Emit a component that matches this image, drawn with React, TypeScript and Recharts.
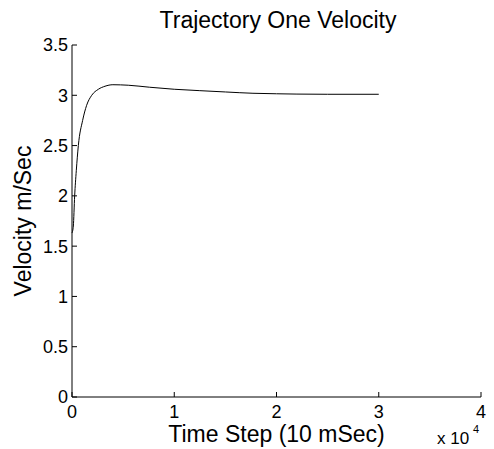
import { LineChart, Line, XAxis, YAxis } from 'recharts';

const timeSteps = [0, 130, 260, 420, 620, 1040, 1430, 1930, 2580, 3230, 4000, 5500, 7600, 10000, 12500, 15000, 17700, 20000, 22000, 25000, 30000];
const velocity = [1.63, 1.7, 2.0, 2.25, 2.5, 2.75, 2.9, 3.0, 3.06, 3.09, 3.105, 3.1, 3.08, 3.06, 3.046, 3.033, 3.02, 3.015, 3.012, 3.01, 3.01];
const xTicks = [0, 10000, 20000, 30000, 40000];
const yTicks = [0, 0.5, 1, 1.5, 2, 2.5, 3, 3.5];

const data = timeSteps.map((t, i) => ({ t, v: velocity[i] }));

const font = 'Liberation Sans, Arial, sans-serif';

export default function App() {
  return (
    <div style={{ position: 'absolute', left: 0, top: 0, width: 494, height: 449, background: '#fff' }}>
      <LineChart width={494} height={449} data={data} margin={{ top: 45, right: 13, bottom: 0, left: 0 }}>
        <XAxis
          dataKey="t"
          type="number"
          domain={[0, 40000]}
          ticks={xTicks}
          tickFormatter={(v: number) => String(v / 10000)}
          height={52}
          tickSize={-5}
          tickMargin={13}
          stroke="#000"
          tick={{ fill: '#000', fontSize: 18, fontFamily: font }}
          label={{ value: 'Time Step (10 mSec)', position: 'insideBottom', offset: 7, fill: '#000', fontSize: 23, fontFamily: font }}
        />
        <YAxis
          type="number"
          domain={[0, 3.5]}
          ticks={yTicks}
          width={72}
          tickSize={-5}
          tickMargin={9}
          stroke="#000"
          tick={{ fill: '#000', fontSize: 18, fontFamily: font }}
          label={{ value: 'Velocity m/Sec', angle: -90, position: 'insideLeft', offset: 23, fill: '#000', fontSize: 23, fontFamily: font, style: { textAnchor: 'middle' } }}
        />
        <Line type="monotone" dataKey="v" stroke="#000" strokeWidth={1} dot={false} isAnimationActive={false} />
      </LineChart>
      <svg width={494} height={449} style={{ position: 'absolute', left: 0, top: 0, pointerEvents: 'none' }}>
        <text x={437} y={444} fontSize={17} fontFamily={font} fill="#000">x 10</text>
        <text x={473} y={433} fontSize={11} fontFamily={font} fill="#000">4</text>
        <text x={278} y={28} textAnchor="middle" fontSize={23} fontFamily={font} fill="#000">Trajectory One Velocity</text>
      </svg>
    </div>
  );
}
